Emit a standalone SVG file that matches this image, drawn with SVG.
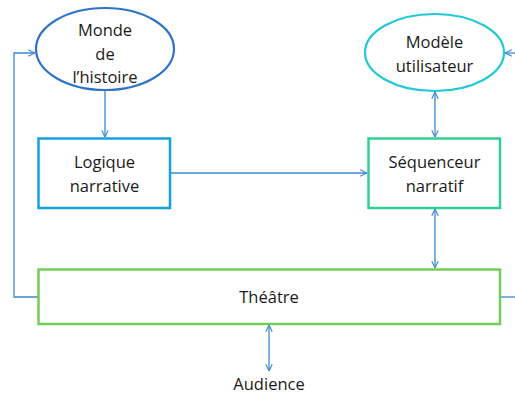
<svg xmlns="http://www.w3.org/2000/svg" width="515" height="394" viewBox="0 0 515 394">
<defs>
<marker id="arr" viewBox="0 0 10 10" refX="9.5" refY="5" markerWidth="8" markerHeight="8" markerUnits="userSpaceOnUse" orient="auto-start-reverse">
<path d="M1,1 L9.5,5 L1,9" fill="none" stroke="#3b87d8" stroke-width="1.4"/>
</marker>
<style>
text{font-family:"Open Sans","Noto Sans","Liberation Sans",sans-serif;font-size:16.5px;fill:#1a1a1a;text-anchor:middle}
.c{fill:none;stroke:#3b87d8;stroke-width:1.3}
</style>
</defs>
<rect width="515" height="394" fill="#fff"/>
<g id="connectors">
<path class="c" d="M105,91 V137" marker-end="url(#arr)"/>
<path class="c" d="M39,297 H14 V53 H35" marker-end="url(#arr)"/>
<path class="c" d="M515,53 H505" marker-end="url(#arr)"/>
<path class="c" d="M500,297 H515"/>
<path class="c" d="M435,92 V137" marker-start="url(#arr)" marker-end="url(#arr)"/>
<path class="c" d="M171,173 H367" marker-end="url(#arr)"/>
<path class="c" d="M435,209 V268" marker-start="url(#arr)" marker-end="url(#arr)"/>
<path class="c" d="M269,325 V371" marker-start="url(#arr)" marker-end="url(#arr)"/>
</g>
<g id="monde">
<ellipse cx="105" cy="49" rx="69" ry="41" fill="#fff" stroke="#2d74c6" stroke-width="2.2"/>
<text x="105" y="36">Monde</text>
<text x="105" y="60">de</text>
<text x="105" y="83">l’histoire</text>
</g>
<g id="modele">
<ellipse cx="434.5" cy="52.5" rx="69.5" ry="38.5" fill="#fff" stroke="#20c8d8" stroke-width="2.2"/>
<text x="434.5" y="48">Modèle</text>
<text x="434.5" y="72">utilisateur</text>
</g>
<g id="logique">
<rect x="38.5" y="138.5" width="131.5" height="69.5" fill="#fff" stroke="#16a0e0" stroke-width="2.5"/>
<text x="104.5" y="168">Logique</text>
<text x="104.5" y="192">narrative</text>
</g>
<g id="sequenceur">
<rect x="368.5" y="138.5" width="131.5" height="69.5" fill="#fff" stroke="#30d092" stroke-width="2.5"/>
<text x="434.5" y="168">Séquenceur</text>
<text x="434.5" y="192">narratif</text>
</g>
<g id="theatre">
<rect x="38.5" y="269.5" width="461.5" height="54.5" fill="#fff" stroke="#74cc56" stroke-width="2.5"/>
<text x="269" y="303">Théâtre</text>
</g>
<g id="audience">
<text x="269" y="390">Audience</text>
</g>
</svg>
